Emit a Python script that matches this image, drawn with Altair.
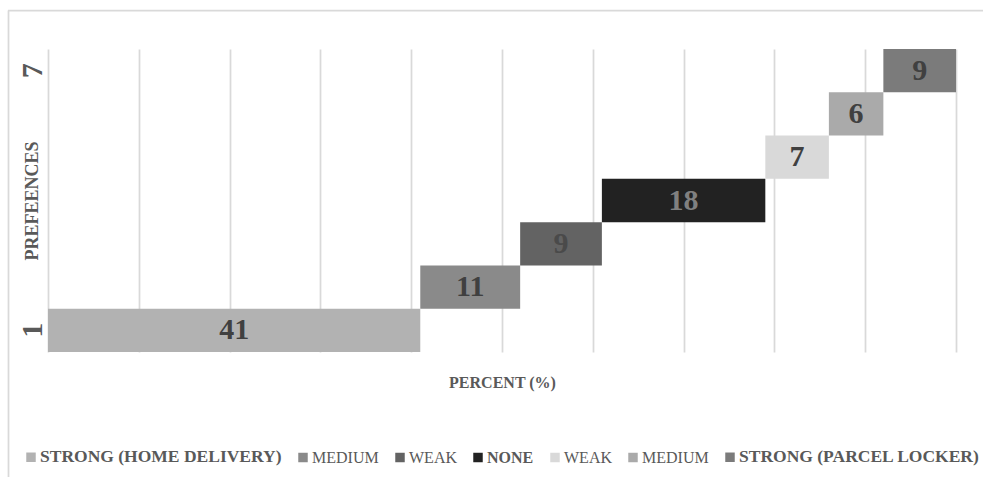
import json
import altair as alt
import pandas as pd

# Preference levels (1 = strong home delivery ... 7 = strong parcel locker)
prefs = [1, 2, 3, 4, 5, 6, 7]
percent = [41, 11, 9, 18, 7, 6, 9]
legend_names = [
    "STRONG (HOME DELIVERY)",
    "MEDIUM",
    "WEAK",
    "NONE",
    "WEAK",
    "MEDIUM",
    "STRONG (PARCEL LOCKER)",
]

# Palette
bar_colors = ["#b2b2b2", "#8a8a8a", "#636363", "#222222", "#d9d9d9", "#aaaaaa", "#7b7b7b"]
label_colors = ["#404040", "#404040", "#4a4a4a", "#808080", "#404040", "#404040", "#404040"]

FONT = "Liberation Serif"
TEXT_GRAY = "#595959"
GRID = "#d9d9d9"

W, H = 908, 303
PAD = {"left": 48, "top": 49, "right": 27, "bottom": 125}

df = pd.DataFrame({
    "pref": prefs,
    "value": percent,
    "label_color": label_colors,
})

bold_keys = [p for p, n in zip(prefs, legend_names) if n.startswith("STRONG") or n == "NONE"]
big_keys = [p for p, n in zip(prefs, legend_names) if n.startswith("STRONG")]
label_expr = f"{json.dumps(legend_names)}[datum.value - 1]"
weight_expr = f"indexof({json.dumps(bold_keys)}, datum.value) >= 0 ? 'bold' : 'normal'"
size_expr = f"indexof({json.dumps(big_keys)}, datum.value) >= 0 ? 17.5 : 16"

base = (
    alt.Chart(df)
    .transform_window(end="sum(value)", frame=[None, 0], sort=[{"field": "pref"}])
    .transform_calculate(start="datum.end - datum.value")
    .transform_calculate(mid="(datum.start + min(datum.end, 100)) / 2")
)

x_scale = alt.Scale(domain=[0, 100], nice=False, zero=True)
y_enc = alt.Y(
    "pref:O",
    sort="descending",
    scale=alt.Scale(paddingInner=0, paddingOuter=0),
    axis=alt.Axis(
        title="PREFEENCES",
        values=[1, 7],
        domain=False,
        ticks=False,
        tickSize=0,
        grid=False,
        labelAngle=270,
        labelAlign="center",
        labelBaseline="middle",
        labelPadding=16,
        labelFont=FONT,
        labelFontSize=30,
        labelFontWeight="bold",
        labelColor=TEXT_GRAY,
        titleFont=FONT,
        titleFontSize=18,
        titleFontWeight="bold",
        titleColor=TEXT_GRAY,
        titleAngle=270,
        titleAlign="center",
        titleBaseline="middle",
        titleX=-16,
        titleY=H / 2,
    ),
)

bars = base.mark_bar(clip=True).encode(
    x=alt.X(
        "start:Q",
        scale=x_scale,
        axis=alt.Axis(
            title="PERCENT (%)",
            values=list(range(0, 101, 10)),
            labels=False,
            ticks=False,
            domain=False,
            grid=True,
            gridColor=GRID,
            gridWidth=1.75,
            titleFont=FONT,
            titleFontSize=16,
            titleFontWeight="bold",
            titleColor=TEXT_GRAY,
            titleBaseline="middle",
            titleY=30,
        ),
    ),
    x2="end:Q",
    y=y_enc,
    color=alt.Color(
        "pref:O",
        scale=alt.Scale(domain=prefs, range=bar_colors),
        legend=alt.Legend(
            title=None,
            orient="none",
            direction="horizontal",
            columns=7,
            legendX=-25,
            legendY=400,
            symbolType="square",
            symbolSize=90,
            symbolStrokeWidth=0,
            labelOffset=1,
            columnPadding=13,
            labelLimit=400,
            labelFont=FONT,
            labelColor=TEXT_GRAY,
            labelExpr=label_expr,
            labelFontSize={"expr": size_expr},
            labelFontWeight={"expr": weight_expr},
        ),
    ),
)

labels = base.mark_text(
    font=FONT, fontSize=30, fontWeight="bold", baseline="middle", align="center"
).encode(
    x=alt.X("mid:Q", scale=x_scale),
    y=alt.Y("pref:O", sort="descending"),
    text=alt.Text("value:Q"),
    color=alt.Color("label_color:N", scale=None),
)

# Outer frame lines around the figure
frame_src = alt.Data(values=[{}])
frame_left = alt.Chart(frame_src).mark_rule(color=GRID, strokeWidth=1.75).encode(
    x=alt.value(-39.5), y=alt.value(-38.5), y2=alt.value(H + PAD["bottom"] + 5)
)
frame_top = alt.Chart(frame_src).mark_rule(color=GRID, strokeWidth=1.75).encode(
    x=alt.value(-40), x2=alt.value(W + PAD["right"] + 5), y=alt.value(-38.5)
)

chart = (
    alt.layer(bars, labels, frame_left, frame_top)
    .properties(
        width=W,
        height=H,
        autosize=alt.AutoSizeParams(type="none"),
        padding=PAD,
        background="white",
    )
    .configure_view(stroke=None)
)

chart.save("out.html", embed_options={"renderer": "svg", "actions": False})
